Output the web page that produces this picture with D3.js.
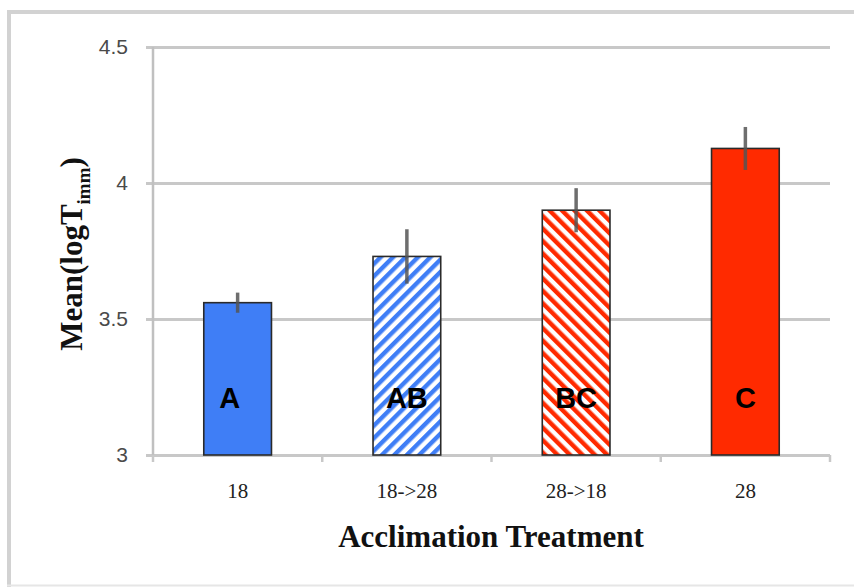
<!DOCTYPE html>
<html>
<head>
<meta charset="utf-8">
<script src="https://cdn.jsdelivr.net/npm/d3@7"></script>
<style>
  html, body { margin: 0; padding: 0; background: #fff; }
  svg { display: block; }
</style>
</head>
<body>
<svg id="chart" width="854" height="587"></svg>
<script>
// Acclimation treatments and mean log immobilisation time
const categories = ["18", "18->28", "28->18", "28"];
const means = [3.56, 3.73, 3.90, 4.127];
const errors = [0.037, 0.10, 0.081, 0.079];
const groupLetters = ["A", "AB", "BC", "C"];
const yTicks = [3, 3.5, 4, 4.5];

const svg = d3.select("#chart");
const W = 854, H = 587;
const plot = { left: 153, right: 830, top: 47, bottom: 455 };

// outer frame
svg.append("line").attr("x1", 9).attr("x2", 9).attr("y1", 10).attr("y2", 587)
  .attr("stroke", "#d2d2d2").attr("stroke-width", 4);
svg.append("line").attr("x1", 7).attr("x2", W).attr("y1", 12).attr("y2", 12)
  .attr("stroke", "#d2d2d2").attr("stroke-width", 4);
svg.append("line").attr("x1", 7).attr("x2", W).attr("y1", 585.5).attr("y2", 585.5)
  .attr("stroke", "#e6e6e6").attr("stroke-width", 2);

// hatch patterns
const defs = svg.append("defs");
function hatch(id, color, angle) {
  const p = defs.append("pattern").attr("id", id)
    .attr("patternUnits", "userSpaceOnUse")
    .attr("width", 8.8).attr("height", 8.8)
    .attr("patternTransform", `rotate(${angle})`);
  p.append("rect").attr("width", 8.8).attr("height", 8.8).attr("fill", "#fff");
  p.append("rect").attr("width", 4.4).attr("height", 8.8).attr("fill", color);
}
hatch("hatchBlue", "#3f7ef6", 45);
hatch("hatchRed", "#ff2a00", -45);
const fills = ["#3f7ef6", "url(#hatchBlue)", "url(#hatchRed)", "#ff2a00"];

const x = d3.scaleBand().domain(categories)
  .range([plot.left, plot.right]).paddingInner(0.6).paddingOuter(0.3);
const y = d3.scaleLinear().domain([3, 4.5]).range([plot.bottom, plot.top]);

// horizontal gridlines + y axis
const yAxis = d3.axisLeft(y).tickValues(yTicks)
  .tickFormat(d3.format("")).tickSize(-(plot.right - plot.left)).tickPadding(25);
const gy = svg.append("g").attr("transform", `translate(${plot.left},0)`).call(yAxis);
gy.select(".domain").remove();
gy.selectAll(".tick line").attr("stroke", "#c8c8c8").attr("stroke-width", 3)
  .attr("x1", -7);
gy.selectAll(".tick text").attr("fill", "#4a4a4a")
  .style("font-family", "'Liberation Sans', Arial, sans-serif").style("font-size", "21px");
svg.append("line").attr("x1", plot.left).attr("x2", plot.left)
  .attr("y1", plot.top).attr("y2", plot.bottom)
  .attr("stroke", "#c0c0c0").attr("stroke-width", 2.5);

// x axis with ticks between categories
const step = x.step();
const edges = d3.range(categories.length + 1).map(i => plot.left + i * step);
svg.append("g").selectAll("line").data(edges).join("line")
  .attr("x1", d => d).attr("x2", d => d)
  .attr("y1", plot.bottom).attr("y2", plot.bottom + 7)
  .attr("stroke", "#c8c8c8").attr("stroke-width", 2.5);
svg.append("g").selectAll("text").data(categories).join("text")
  .attr("x", d => x(d) + x.bandwidth() / 2).attr("y", 498)
  .attr("text-anchor", "middle").attr("fill", "#222")
  .style("font-family", "'Liberation Serif', 'Times New Roman', serif").style("font-size", "21px")
  .text(d => d);

// bars
const rows = categories.map((c, i) => ({ c, m: means[i], e: errors[i], g: groupLetters[i], i }));
svg.append("g").selectAll("rect").data(rows).join("rect")
  .attr("x", d => x(d.c)).attr("width", x.bandwidth())
  .attr("y", d => y(d.m)).attr("height", d => y(3) - y(d.m))
  .attr("fill", d => fills[d.i]).attr("stroke", "#2a2a2a").attr("stroke-width", 1.6);

// error bars
svg.append("g").selectAll("line").data(rows).join("line")
  .attr("x1", d => x(d.c) + x.bandwidth() / 2).attr("x2", d => x(d.c) + x.bandwidth() / 2)
  .attr("y1", d => y(d.m + d.e)).attr("y2", d => y(d.m - d.e))
  .attr("stroke", "#555").attr("stroke-opacity", 0.85).attr("stroke-width", 3.5);

// significance group letters
svg.append("g").selectAll("text").data(rows).join("text")
  .attr("x", d => x(d.c) + x.bandwidth() / 2 - (d.i === 0 ? 8 : 0)).attr("y", y(3) - 47)
  .attr("text-anchor", "middle").attr("fill", "#000")
  .style("font-family", "'Liberation Sans', Arial, sans-serif")
  .style("font-weight", "bold").style("font-size", "29px")
  .text(d => d.g);

// axis titles
svg.append("text").attr("x", 491).attr("y", 547).attr("text-anchor", "middle")
  .attr("fill", "#111")
  .style("font-family", "'Liberation Serif', 'Times New Roman', serif")
  .style("font-weight", "bold").style("font-size", "31px")
  .text("Acclimation Treatment");

const yt = svg.append("text")
  .attr("transform", "translate(82,254) rotate(-90)")
  .attr("text-anchor", "middle").attr("fill", "#111")
  .style("font-family", "'Liberation Serif', 'Times New Roman', serif")
  .style("font-weight", "bold").style("font-size", "31px");
yt.append("tspan").text("Mean(logT");
yt.append("tspan").attr("dy", 8).style("font-size", "19px").text("imm");
yt.append("tspan").attr("dy", -8).text(")");
</script>
</body>
</html>
